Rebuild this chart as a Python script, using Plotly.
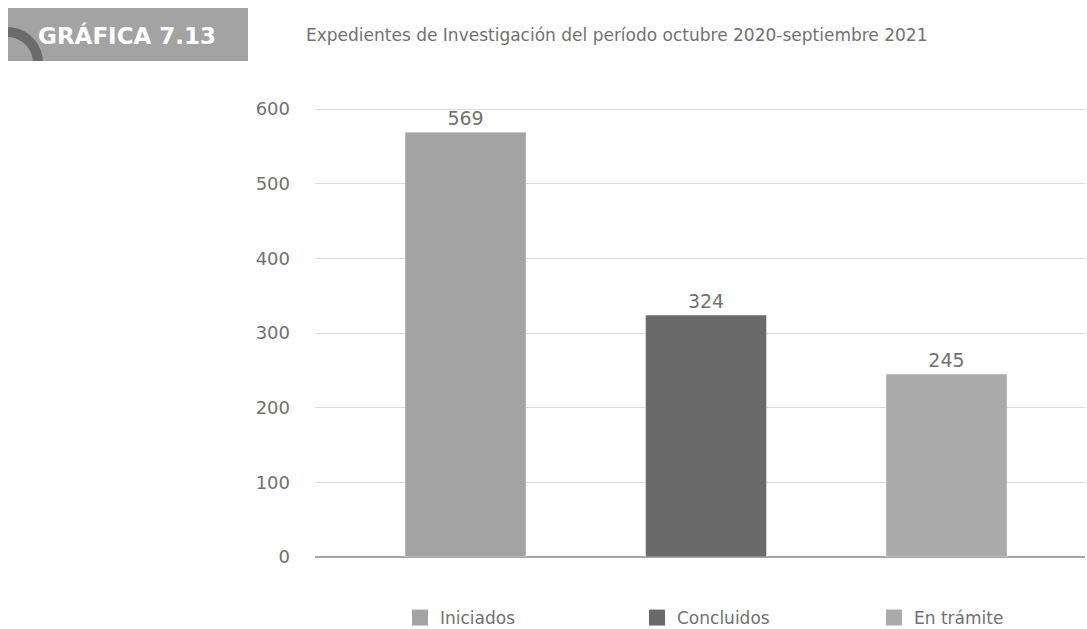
import numpy as np
import plotly.graph_objects as go

categories = ["Iniciados", "Concluidos", "En trámite"]
values = [569, 324, 245]
colors = ["#a3a3a3", "#6a6a6a", "#ababab"]
y_ticks = [0, 100, 200, 300, 400, 500, 600]

FONT = "DejaVu Sans"
TXT = "#717171"
W, H = 1087, 629
ML, MR, MT, MB = 315, 2, 104, 72
PW, PH = W - ML - MR, H - MT - MB
Y_TOP = PH / (448 / 600)


def px(x):
    return (x - ML) / PW


def py(y):
    return (H - MB - y) / PH


fig = go.Figure()
for cat, val, col in zip(categories, values, colors):
    fig.add_trace(go.Bar(
        x=[cat], y=[val], name=cat, marker_color=col, width=0.503,
        text=[str(val)], textposition="outside", cliponaxis=False,
        textfont=dict(size=19, color=TXT, family=FONT),
        showlegend=False, hoverinfo="x+y",
    ))
for cat, col in zip(categories, colors):
    fig.add_trace(go.Scatter(
        x=[categories[0]], y=[None], mode="markers", name=cat,
        marker=dict(symbol="square", size=17, color=col), showlegend=True,
    ))

# header box
shapes = [dict(type="rect", xref="paper", yref="paper",
               x0=px(8), x1=px(248), y0=py(61), y1=py(8),
               fillcolor="#a3a3a3", line_width=0, layer="above")]
# arc
cx, cy, ro, ri = 7, 63, 36, 26
t = np.linspace(0, np.pi / 2, 40)
outer = [(cx + ro * np.sin(a), cy - ro * np.cos(a)) for a in t]
inner = [(cx + ri * np.sin(a), cy - ri * np.cos(a)) for a in t[::-1]]
pts = [(max(x, 8), min(y, 61)) for x, y in outer + inner]
path = "M " + " L ".join(f"{px(x):.5f},{py(y):.5f}" for x, y in pts) + " Z"
shapes.append(dict(type="path", xref="paper", yref="paper", path=path,
                   fillcolor="#6b6b6b", line_width=0, layer="above"))

annotations = [
    dict(text="<b>GRÁFICA 7.13</b>", xref="paper", yref="paper",
         x=px(127), y=py(35), xanchor="center", yanchor="middle",
         showarrow=False, font=dict(size=23, color="white", family=FONT)),
    dict(text="Expedientes de Investigación del período octubre 2020-septiembre 2021",
         xref="paper", yref="paper", x=px(304), y=py(35), xanchor="left",
         yanchor="middle", showarrow=False,
         font=dict(size=17, color=TXT, family=FONT)),
]

fig.update_layout(
    width=W, height=H,
    margin=dict(l=ML, r=MR, t=MT, b=MB, autoexpand=False),
    paper_bgcolor="white", plot_bgcolor="white",
    barmode="overlay",
    showlegend=True,
    legend=dict(orientation="h", x=px(400), xanchor="left", y=py(618),
                yanchor="middle", entrywidth=192, entrywidthmode="pixels",
                font=dict(size=17, color=TXT, family=FONT),
                itemsizing="trace"),
    xaxis=dict(range=[-0.626, 2.576], showticklabels=False, showgrid=False,
               zeroline=False, showline=False, fixedrange=True),
    yaxis=dict(range=[0, Y_TOP], tickvals=y_ticks, showgrid=True,
               gridcolor="#d9d9d9", gridwidth=1.3, zeroline=True,
               zerolinecolor="#a6a6a6", zerolinewidth=1.5, showline=False,
               ticks="", ticklabelstandoff=24, fixedrange=True,
               tickfont=dict(size=18, color=TXT, family=FONT)),
    shapes=shapes, annotations=annotations,
    font=dict(family=FONT),
)

fig.write_html(
    "out.html",
    config={"displayModeBar": False},
    post_script="document.body.style.margin='0';document.body.style.overflow='hidden';",
)
